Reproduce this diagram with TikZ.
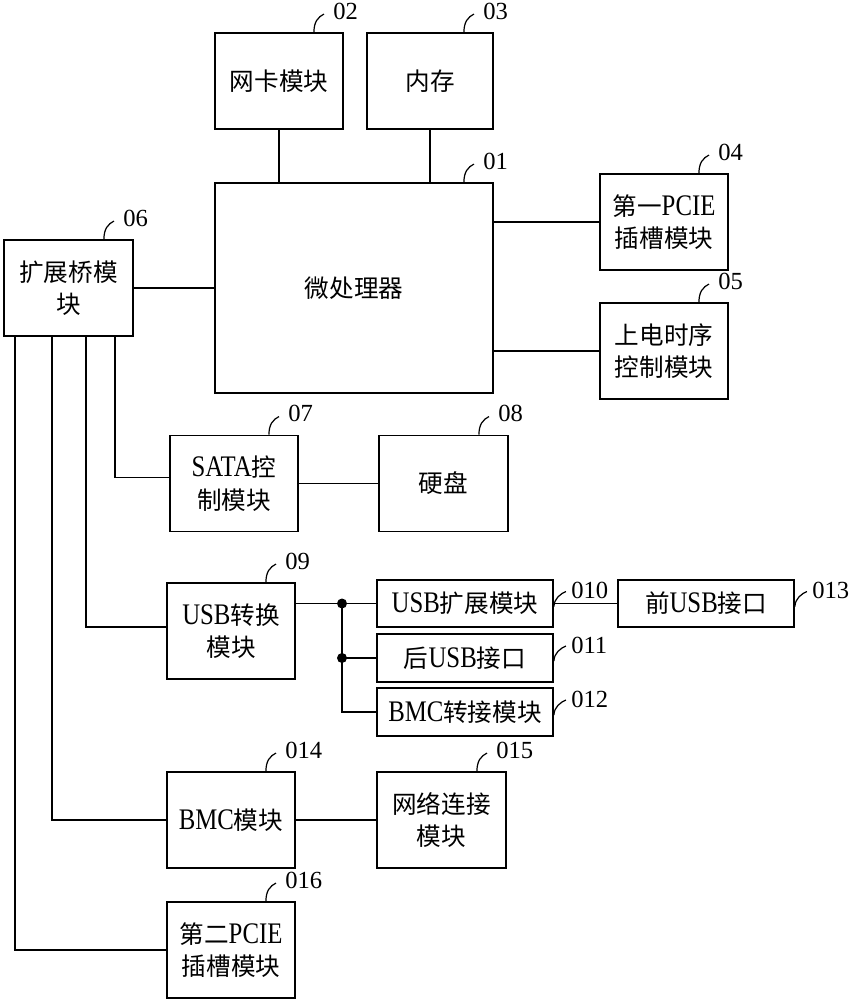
\documentclass[tikz,border=0pt]{standalone}
\usepackage{fontspec}
\setmainfont{Liberation Serif}[FakeStretch=0.83]
\newfontfamily\numfont{Liberation Serif}
\newfontfamily\zhfont{Noto Sans CJK SC}
\newcommand{\zh}{\zhfont\fontsize{14}{18.5}\selectfont}
\usetikzlibrary{calc,positioning}

% number tag above the top right corner of a box
\newcommand{\numtop}[2]{%
  \draw[tagline] ($(#1.north east)+(-30,0)$) .. controls +(0,-10) and +(-6,3) .. +(10,-18);
  \node[tagnum, anchor=west] (#1-tag) at ($(#1.north east)+(-11,-21)$) {#2};}
% number tag at the right side of a box
\newcommand{\numside}[2]{%
  \draw[tagline] ([yshift=-0.06cm]#1.east) .. controls +(0,-8) and +(-5,2) .. +(12,-15);
  \node[tagnum, anchor=west] (#1-tag) at ($(#1.east)+(17,-13)$) {#2};}

\begin{document}
\begin{tikzpicture}[x=0.02cm, y=-0.02cm,
    box/.style={draw, line width=1.1pt, minimum width=2.56cm, minimum height=1.92cm,
        inner sep=1pt, align=center, font=\fontsize{17}{18.5}\selectfont},
    cjk/.style={font=\zh},
    slim/.style={minimum width=3.52cm, minimum height=0.95cm},
    wire/.style={line width=0.9pt},
    tagline/.style={line width=0.7pt},
    tagnum/.style={inner sep=0pt, font=\numfont\fontsize{14}{16}\selectfont},
    dot/.style={circle, fill, inner sep=0pt, minimum size=0.2cm}
]
\useasboundingbox (0,0) rectangle (849,1000);

%%% upper part
\node[box, cjk, minimum width=5.56cm, minimum height=4.2cm] (cpu) at (354,288) {微处理器};
\node[box, cjk] (nic) at (279,81) {网卡模块};
\node[box, cjk, minimum width=2.52cm] (mem) at (430,81) {内存};
\node[box] (pcie1) at (664,222) {{\zh 第一}PCIE\\{\zh 插槽模块}};
\node[box, cjk] (pwr) at (664,351) {上电时序\\控制模块};
\node[box, cjk, minimum width=2.58cm] (bridge) at (68.5,288) {扩展桥模\\块};

\draw[wire] (nic.south) -- (nic.south |- cpu.north);
\draw[wire] (mem.south) -- (mem.south |- cpu.north);
\draw[wire] (cpu.east |- pcie1) -- (pcie1.west);
\draw[wire] (cpu.east |- pwr) -- (pwr.west);
\draw[wire] (bridge.east) -- (bridge.east -| cpu.west);

%%% lower part
\node[box] (sata) at (234,483.5) {SATA{\zh 控}\\{\zh 制模块}};
\node[box, cjk, minimum width=2.58cm] (hdd) at (443.5,483.5) {硬盘};
\node[box] (usbconv) at (231,631) {USB{\zh 转换}\\{\zh 模块}};
\node[box, slim] (usbext) at (465,603.5) {USB{\zh 扩展模块}};
\node[box, slim] (rearusb) at (465,658) {{\zh 后}USB{\zh 接口}};
\node[box, slim] (bmcadp) at (465,712) {BMC{\zh 转接模块}};
\node[box, slim] (frontusb) at (706,603.5) {{\zh 前}USB{\zh 接口}};
\node[box] (bmc) at (231,820) {BMC{\zh 模块}};
\node[box, cjk, minimum width=2.58cm] (net) at (441.5,820) {网络连接\\模块};
\node[box] (pcie2) at (231,950) {{\zh 第二}PCIE\\{\zh 插槽模块}};

\coordinate (jx) at (342,0);
\node[dot] (j1) at (usbext.west -| jx) {};
\node[dot] (j2) at (rearusb.west -| jx) {};

\draw[wire] (bridge.south west) ++(12,0) |- (pcie2.west);
\draw[wire] (bridge.south west) ++(49,0) |- (bmc.west);
\draw[wire] (bridge.south west) ++(83,0) |- ([yshift=0.08cm]usbconv.west);
\draw[wire] (bridge.south west) ++(112,0) |- ([yshift=0.12cm]sata.west);
\draw[wire] (sata.east) -- (hdd.west);
\draw[wire] (usbconv.east |- usbext) -- (usbext.west);
\draw[wire] (j1.center) |- (bmcadp.west);
\draw[wire] (j2.center) -- (rearusb.west);
\draw[wire] (usbext.east) -- (frontusb.west);
\draw[wire] (bmc.east) -- (net.west);

%%% number tags
\numtop{cpu}{01}
\numtop{nic}{02}
\numtop{mem}{03}
\numtop{pcie1}{04}
\numtop{pwr}{05}
\numtop{bridge}{06}
\numtop{sata}{07}
\numtop{hdd}{08}
\numtop{usbconv}{09}
\numside{usbext}{010}
\numside{rearusb}{011}
\numside{bmcadp}{012}
\numside{frontusb}{013}
\numtop{bmc}{014}
\numtop{net}{015}
\numtop{pcie2}{016}

\end{tikzpicture}
\end{document}
